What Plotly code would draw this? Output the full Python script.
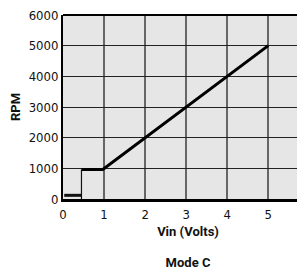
import plotly.graph_objects as go

low_x = [0.03, 0.45]
low_y = [120, 120]
step_x = [0.45, 0.45]
step_y = [0, 960]
main_x = [0.45, 0.97, 5.0]
main_y = [960, 960, 5000]
x_ticks = [0, 1, 2, 3, 4, 5]
y_ticks = [0, 1000, 2000, 3000, 4000, 5000, 6000]

TICKFONT = "DejaVu Sans Condensed, Roboto, sans-serif"
BOLDFONT = "Roboto, sans-serif"

fig = go.Figure()
fig.add_trace(go.Scatter(x=step_x, y=step_y, mode="lines",
                         line=dict(color="#111111", width=1.2), showlegend=False))
fig.add_trace(go.Scatter(x=low_x, y=low_y, mode="lines",
                         line=dict(color="#111111", width=3), showlegend=False))
fig.add_trace(go.Scatter(x=main_x, y=main_y, mode="lines",
                         line=dict(color="#000000", width=3), showlegend=False))

fig.update_layout(
    width=305, height=273,
    margin=dict(l=55, r=0, t=4, b=82),
    paper_bgcolor="white",
    plot_bgcolor="#e6e6e6",
    font=dict(family=TICKFONT, size=13, color="#111111"),
    title=dict(text="<b>Mode C</b>", x=0.5, xref="paper", xanchor="center",
               y=1 - 254 / 273, yanchor="middle",
               font=dict(family=BOLDFONT, size=13, color="#111111")),
    xaxis=dict(range=[0, 6.09], tickvals=x_ticks, ticktext=[str(v) for v in x_ticks],
               showgrid=True, gridcolor="#666666", gridwidth=1.5,
               showline=True, linecolor="#000000", linewidth=2.5, zeroline=False,
               ticks="", ticklabelstandoff=2, ticklabeloverflow="allow",
               tickfont=dict(family=TICKFONT, size=13),
               title=dict(text="<b>Vin (Volts)</b>", standoff=6,
                          font=dict(family=BOLDFONT, size=13))),
    yaxis=dict(range=[0, 6000], tickvals=y_ticks,
               showgrid=True, gridcolor="#222222", gridwidth=1.2,
               showline=True, linecolor="#000000", linewidth=2, zeroline=False,
               ticks="", ticklabelstandoff=0, ticklabeloverflow="allow",
               tickfont=dict(family=TICKFONT, size=13),
               title=dict(text="<b>RPM</b>", standoff=8,
                          font=dict(family=BOLDFONT, size=13))),
)
fig.add_shape(type="line", xref="paper", yref="paper", x0=0, x1=1, y0=1, y1=1,
              line=dict(color="#000000", width=2))
fig.write_html("out.html")
